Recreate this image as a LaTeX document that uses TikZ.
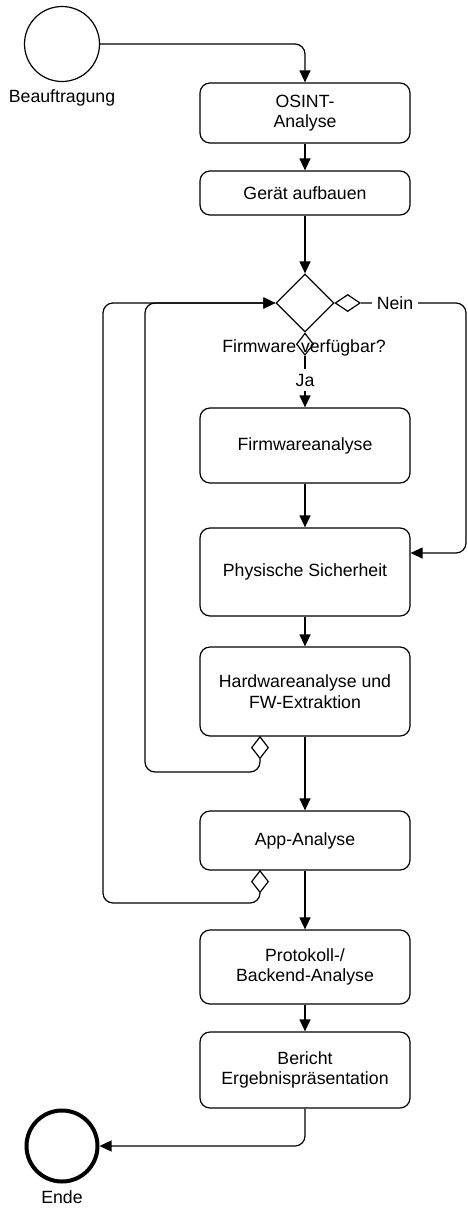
\documentclass[tikz,border=0pt]{standalone}
\usepackage{fontspec}
\setmainfont{Liberation Sans}
\usetikzlibrary{shapes.geometric,arrows.meta}
\begin{document}
\begin{tikzpicture}[x=1pt,y=-1pt,
  every node/.style={font=\fontsize{17.7}{20.5}\selectfont},
  task/.style={draw, rounded corners=10pt, line width=1.2pt, minimum width=210pt, align=center, inner sep=0pt},
  flow/.style={line width=1.2pt, rounded corners=10pt, -{Triangle[width=11pt,length=12pt]}},
  conn/.style={line width=1.2pt, rounded corners=10pt},
  hmark/.style={draw, diamond, fill=white, line width=1.2pt, minimum width=25pt, minimum height=17pt, inner sep=0pt},
  vmark/.style={draw, diamond, fill=white, line width=1.2pt, minimum width=17pt, minimum height=22pt, inner sep=0pt},
  lbl/.style={inner sep=0pt}]
\useasboundingbox (0,0) rectangle (468,1208);

% events
\node[draw, circle, line width=1.2pt, minimum size=75pt, inner sep=0pt] (start) at (62,44) {};
\node[lbl, anchor=base] (startlbl) at (62,102) {Beauftragung};
\node[draw, circle, line width=4pt, minimum size=71pt, inner sep=0pt] (end) at (62,1146) {};
\node[lbl, anchor=base] (endlbl) at (62,1203) {Ende};

% tasks
\node[task, minimum height=60pt] (osint) at (305,113) {OSINT-\\Analyse};
\node[task, minimum height=44pt] (geraet) at (305,193) {Gerät aufbauen};
\node[draw, diamond, line width=1.2pt, minimum width=58pt, minimum height=58pt, inner sep=0pt] (dia) at (305,303) {};
\node[task, minimum height=75pt] (fw) at (305,445.5) {Firmwareanalyse};
\node[task, minimum height=88pt] (phys) at (305,572) {Physische Sicherheit};
\node[task, minimum height=89pt] (hw) at (305,691.5) {Hardwareanalyse und\\FW-Extraktion};
\node[task, minimum height=59pt] (app) at (305,840.5) {App-Analyse};
\node[task, minimum height=74pt] (proto) at (305,967) {Protokoll-/\\Backend-Analyse};
\node[task, minimum height=76pt] (bericht) at (305,1070) {Bericht\\Ergebnispräsentation};

% helper coordinates
\coordinate (nn) at (466,553);
\coordinate (hwl) at (145,772);
\coordinate (appl) at (103,903);
\coordinate (hwc) at (260,736);
\coordinate (appc) at (260,870);

% sequence flows
\draw[flow] (start.east) -| (osint.north);
\draw[flow] (osint.south) -- (geraet.north);
\draw[flow] (geraet.south) -- (dia.north);
\draw[flow] (fw.south) -- (phys.north);
\draw[flow] (phys.south) -- (hw.north);
\draw[flow] (hw.south) -- (app.north);
\draw[flow] (app.south) -- (proto.north);
\draw[flow] (proto.south) -- (bericht.north);
\draw[flow] (bericht.south) |- (end.east);

% conditional markers
\node[hmark, anchor=west] (nm) at (dia.east) {};
\node[vmark, anchor=north] (jm) at (dia.south) {};
\node[vmark, anchor=north] (hwm) at (hwc) {};
\node[vmark, anchor=north] (appm) at (appc) {};

% gateway branches
\draw[flow] (nm.east) -| (nn) -- (phys.east |- nn);
\draw[flow] (jm.south) -- (fw.north);
\draw[flow] (hwm.south) |- (hwl) |- (dia.west);
\draw[flow] (appm.south) |- (appl) |- (dia.west);

% labels
\node[lbl, fill=white, inner xsep=5pt, inner ysep=3pt, anchor=base] (nein) at (395,309) {Nein};
\node[lbl, fill=white, inner xsep=3pt, inner ysep=5pt, anchor=base] (ja) at (305,386) {Ja};
\node[lbl, anchor=base] (q) at (304,352) {Firmware verfügbar?};
\end{tikzpicture}
\end{document}
